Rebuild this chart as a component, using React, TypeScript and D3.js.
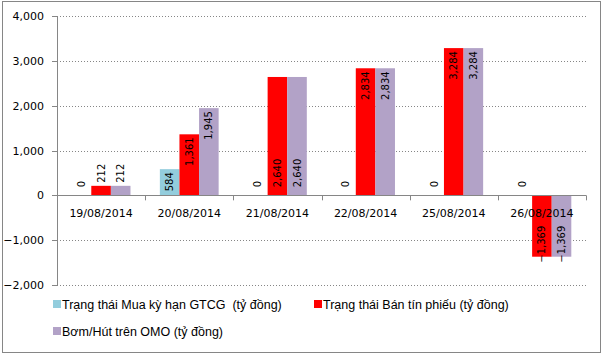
import React from "react";
import * as d3 from "d3";

const categories = ["19/08/2014", "20/08/2014", "21/08/2014", "22/08/2014", "25/08/2014", "26/08/2014"];
const seriesNames = ["Trạng thái Mua kỳ hạn GTCG  (tỷ đồng)", "Trạng thái Bán tín phiếu (tỷ đồng)", "Bơm/Hút trên OMO (tỷ đồng)"];
const muaValues = [0, 584, 0, 0, 0, 0];
const banValues = [212, 1361, 2640, 2834, 3284, -1369];
const omoValues = [212, 1945, 2640, 2834, 3284, -1369];
const yTicks = [-2000, -1000, 0, 1000, 2000, 3000, 4000];
const colors = ["#93CDDD", "#FF0000", "#B2A2C7"];
const baseLabelCategories = new Set(["21/08/2014"]);

const W = 604, H = 357;
const left = 57, right = 586, top = 16, bottom = 285;

export default function App() {
  const series = [muaValues, banValues, omoValues];
  const y = d3.scaleLinear().domain([-2000, 4000]).range([bottom, top]);
  const x0 = d3.scaleBand().domain(categories).range([left, right]).paddingInner(0).paddingOuter(0);
  const bw = x0.bandwidth() / 4.5;
  const fmt = d3.format(",");
  const font = "'DejaVu Sans', Tahoma, sans-serif";
  const y0 = y(0);

  const bars: any[] = [];
  const labels: any[] = [];
  categories.forEach((c, ci) => {
    series.forEach((vals, si) => {
      const v = vals[ci];
      const bx = (x0(c) as number) + bw * 0.75 + si * bw;
      const yt = y(Math.max(0, v));
      const yb = y(Math.min(0, v));
      if (v !== 0) {
        bars.push(<rect key={`b${ci}-${si}`} x={bx} y={yt} width={bw} height={yb - yt} fill={colors[si]} />);
      }
      const text = fmt(v);
      const tlen = text.length * 6.2;
      const cx = bx + bw / 2 + 3.5;
      let anchor = "start";
      let ty = 0;
      if (v < 0) {
        ty = yb + 6;
        anchor = "start";
      } else if (v === 0 || baseLabelCategories.has(c)) {
        ty = y0 - 8;
        anchor = "start";
      } else if (yb - yt < tlen) {
        ty = yt - 3;
        anchor = "start";
      } else {
        ty = yt + 3;
        anchor = "end";
      }
      labels.push(
        <text key={`l${ci}-${si}`} transform={`translate(${cx},${ty}) rotate(-90)`} textAnchor={anchor}
          fontSize={10} fontFamily={font} fill="#000">{text}</text>
      );
    });
  });

  return (
    <svg width={W} height={H} style={{ position: "absolute", left: 0, top: 0, background: "#fff" }}>
      <rect x={2.5} y={1.5} width={598} height={351} fill="#fff" stroke="#868686" strokeWidth={1} />
      {yTicks.filter(t => t !== 0).map(t => (
        <line key={`g${t}`} x1={left} x2={right} y1={Math.round(y(t)) + 0.5} y2={Math.round(y(t)) + 0.5}
          stroke="#868686" strokeDasharray="1,2" />
      ))}
      {bars}
      <line x1={left + 0.5} x2={left + 0.5} y1={top} y2={bottom} stroke="#868686" />
      {yTicks.map(t => (
        <g key={`t${t}`}>
          <line x1={left - 5} x2={left} y1={Math.round(y(t)) + 0.5} y2={Math.round(y(t)) + 0.5} stroke="#868686" />
          <text x={44} y={y(t) + 4} textAnchor="end" fontSize={11} fontFamily={font} fill="#000">{fmt(t)}</text>
        </g>
      ))}
      <line x1={left} x2={right} y1={Math.round(y0) + 0.5} y2={Math.round(y0) + 0.5} stroke="#868686" />
      {categories.map((c, i) => (
        <line key={`ct${i}`} x1={Math.round(x0(c) as number) + 0.5} x2={Math.round(x0(c) as number) + 0.5}
          y1={y0} y2={y0 + 5} stroke="#868686" />
      ))}
      <line x1={right + 0.5} x2={right + 0.5} y1={y0} y2={y0 + 5} stroke="#868686" />
      {categories.map((c, i) => (
        <text key={`cl${i}`} x={(x0(c) as number) + x0.bandwidth() / 2} y={217} textAnchor="middle"
          fontSize={11} fontFamily={font} fill="#000">{c}</text>
      ))}
      {labels}
      {[
        { i: 0, x: 53, y: 304 },
        { i: 1, x: 314, y: 304 },
        { i: 2, x: 53, y: 331 },
      ].map(({ i, x, y: ly }) => (
        <g key={`lg${i}`}>
          <rect x={x} y={ly - 4} width={8} height={8} fill={colors[i]} />
          <text x={x + 9} y={ly + 5} fontSize={12.5} fontFamily="'Liberation Sans', Arial, sans-serif" fill="#000"
            style={{ whiteSpace: "pre" }}>{seriesNames[i]}</text>
        </g>
      ))}
    </svg>
  );
}
